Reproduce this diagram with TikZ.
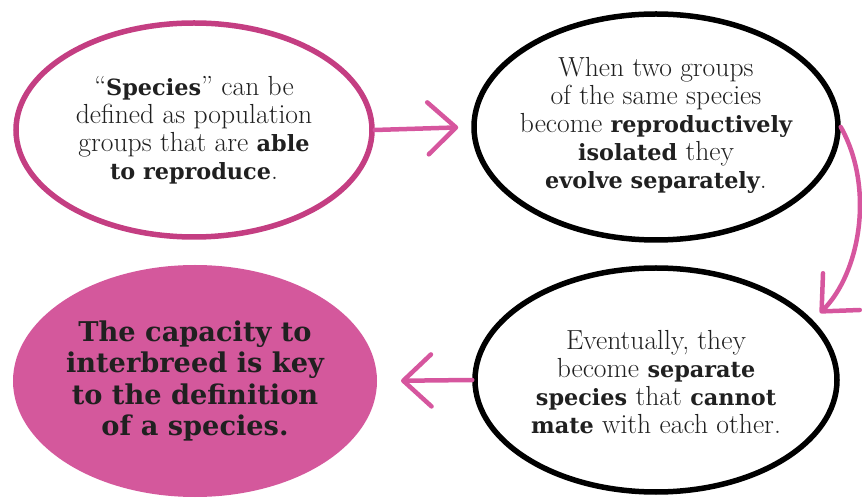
\documentclass[tikz,border=0pt]{standalone}
\usepackage{fontspec}
\usetikzlibrary{shapes.geometric,arrows.meta}
\newfontfamily\heavy{DejaVu Serif}[Scale=0.81]
\newcommand\hb[1]{{\heavy\bfseries #1}}
\definecolor{rose}{RGB}{196,62,130}
\definecolor{rosefill}{RGB}{212,88,156}
\definecolor{arrowpink}{RGB}{214,86,158}
\definecolor{ink}{RGB}{32,32,32}
\begin{document}
\begin{tikzpicture}[x=1pt,y=1pt,
    bubble/.style={ellipse,line width=5.5pt,inner sep=0pt},
    words/.style={align=center,text=ink,font=\fontsize{27.6}{28}\selectfont},
    bigwords/.style={align=center,text=ink,font=\heavy\bfseries\fontsize{33.6}{31.5}\selectfont}]
  \useasboundingbox (0,0) rectangle (862,498);
  \node[bubble,draw=rose,minimum width=356pt,minimum height=214pt] (tl) at (194,368) {};
  \node[bubble,draw=black,minimum width=364pt,minimum height=226pt] (tr) at (656,371) {};
  \node[bubble,draw=black,minimum width=362pt,minimum height=224pt] (br) at (656,118) {};
  \node[bubble,fill=rosefill,line width=0pt,minimum width=364pt,minimum height=232pt] (bl) at (195,117) {};
  \node[words] (tltext) at (tl) {``\hb{Species}'' can be\\defined as population\\groups that are \hb{able}\\\hb{to reproduce}.};
  \node[words] (trtext) at ([yshift=2pt]tr) {When two groups\\of the same species\\become \hb{reproductively}\\\hb{isolated} they\\\hb{evolve separately}.};
  \node[words] (brtext) at ([yshift=-2pt]br) {Eventually, they\\become \hb{separate}\\\hb{species} that \hb{cannot}\\\hb{mate} with each other.};
  \node[bigwords] (bltext) at (bl) {The capacity to\\interbreed is key\\to the definition\\of a species.};
  \coordinate (brtip) at (820,185);
  \begin{scope}[arrowpink,line width=4.5pt,line cap=round,
      -{Straight Barb[length=28pt,width=52pt,round]}]
    \draw[shorten >=13pt] (tl.east) -- (tr.west);
    \draw (tr.east) .. controls (875,310) and (860,225) .. (brtip);
    \draw[shorten >=24pt] (br.west) -- (bl.east);
  \end{scope}
\end{tikzpicture}
\end{document}
